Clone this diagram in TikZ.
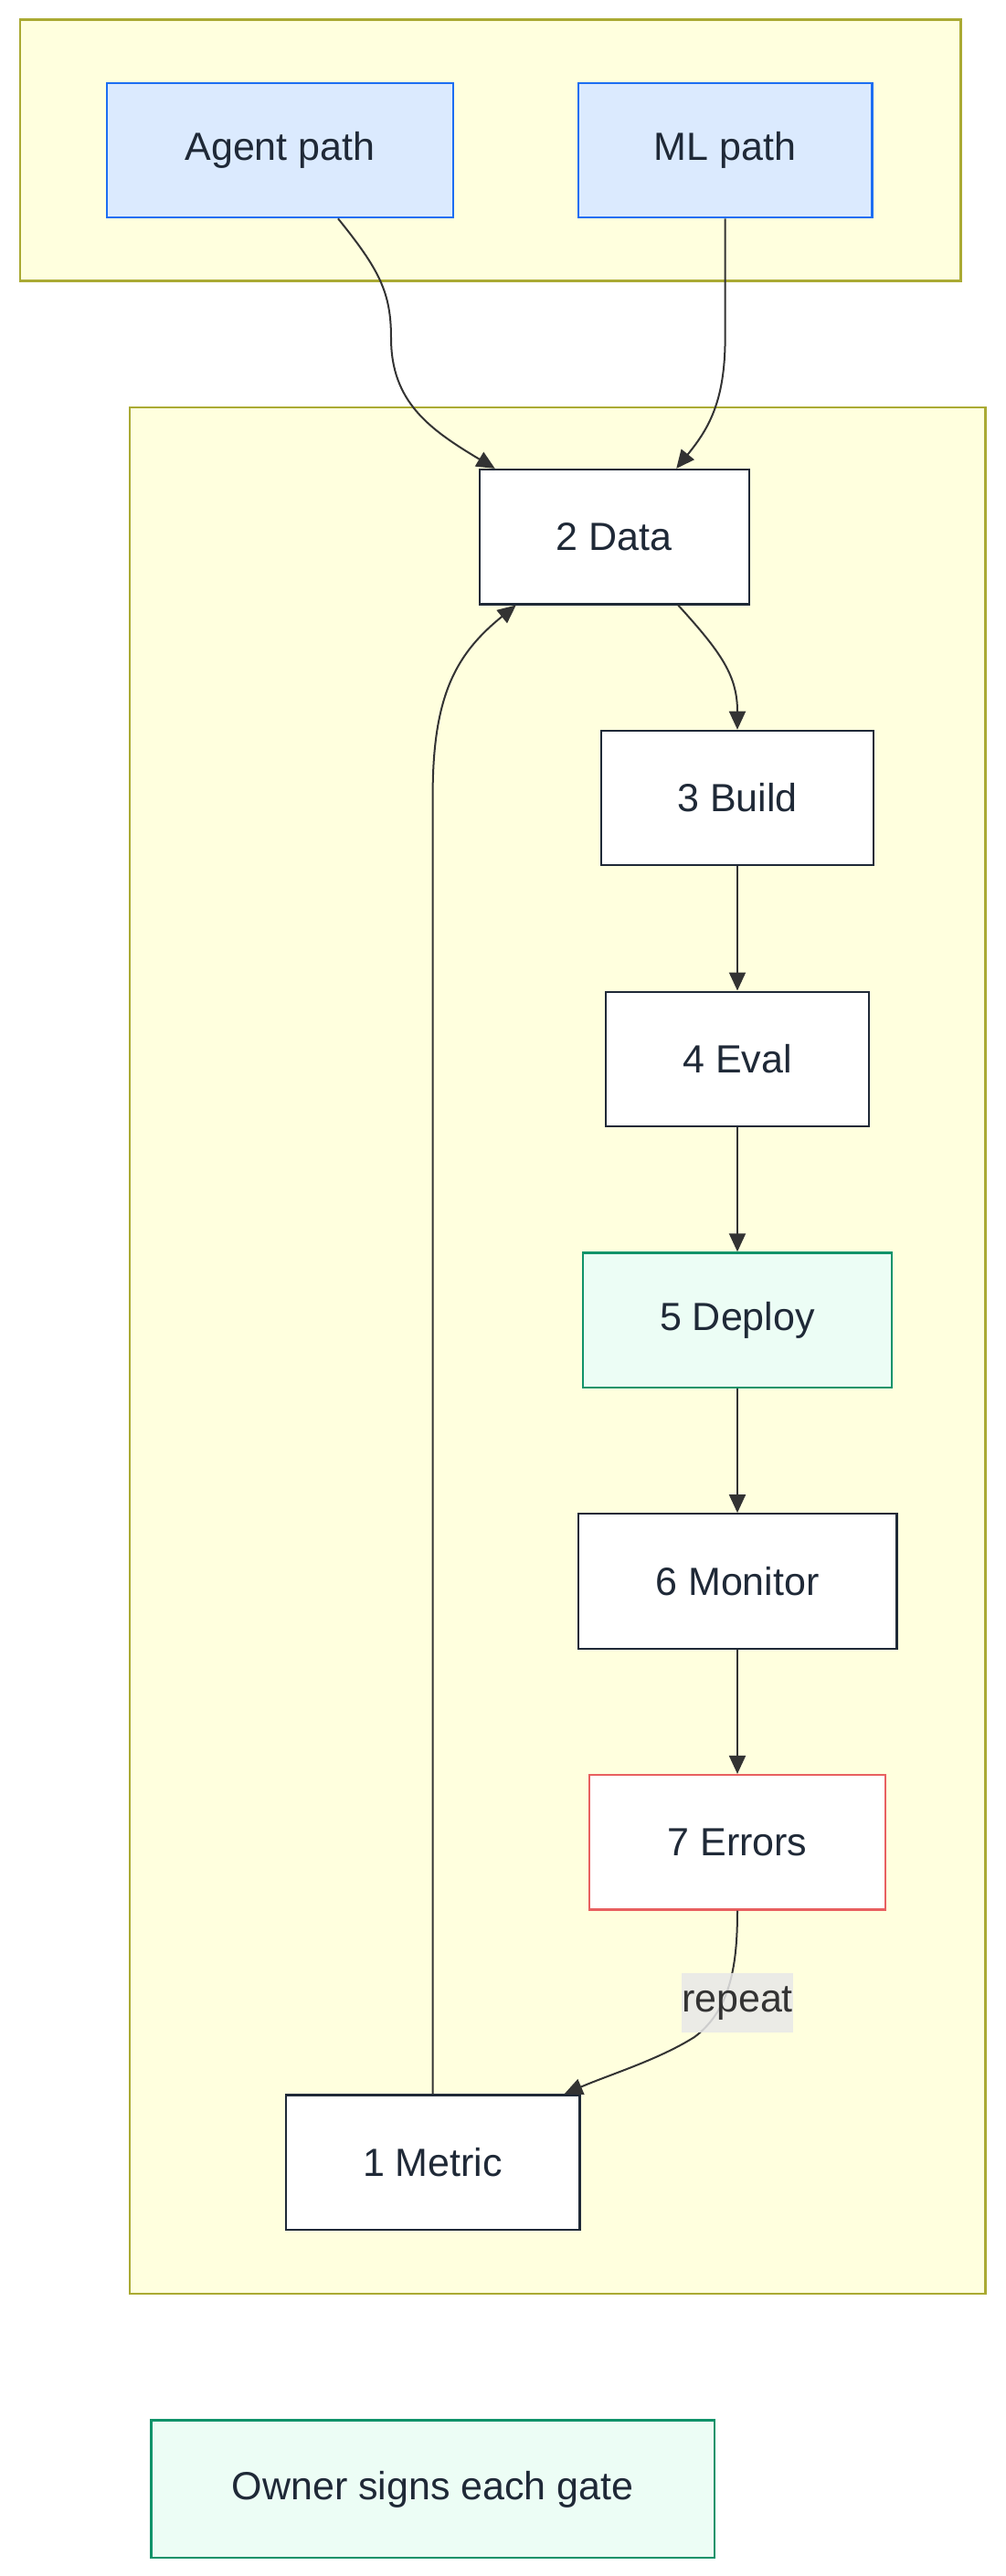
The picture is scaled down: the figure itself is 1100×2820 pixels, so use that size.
\documentclass[tikz,border=0pt]{standalone}
\usepackage{fontspec}
\setmainfont{Liberation Sans}
\usetikzlibrary{arrows.meta,calc}

\definecolor{clusterfill}{HTML}{FFFFDE}
\definecolor{clusterline}{HTML}{AAAA33}
\definecolor{pathfill}{HTML}{DBEAFE}
\definecolor{pathline}{HTML}{1C6EF2}
\definecolor{gatefill}{HTML}{ECFDF5}
\definecolor{gateline}{HTML}{10936A}
\definecolor{errline}{HTML}{E86060}
\definecolor{nodeline}{HTML}{1F2937}
\definecolor{edgeline}{HTML}{333333}
\definecolor{lblfill}{HTML}{E8E8E8}

\tikzset{
  stepbox/.style={draw=nodeline, fill=white, line width=1.1pt, text=nodeline,
    minimum height=73.7pt, inner sep=0pt, font=\fontsize{21.5}{26}\selectfont},
  pathbox/.style={stepbox, draw=pathline, fill=pathfill},
  gatebox/.style={stepbox, draw=gateline, fill=gatefill},
  errbox/.style={stepbox, draw=errline},
  cluster/.style={draw=clusterline, fill=clusterfill, line width=1.1pt},
  flow/.style={draw=edgeline, line width=1pt, -{Triangle[length=10pt,width=9pt]}},
}

\begin{document}
\begin{tikzpicture}[x=0.5pt, y=-0.5pt]
  \useasboundingbox (0,0) rectangle (1100,2820);

  % 1. clusters
  \draw[cluster] (21.6,21.6) rectangle (1051.5,307.4);
  \draw[cluster] (142,445.8) rectangle (1078.4,2510.9);

  % 2. nodes
  \node[pathbox, minimum width=189.6pt] (agent) at (306.5,164.5) {Agent path};
  \node[pathbox, minimum width=160.8pt] (ml) at (793.6,164.5) {ML path};
  \node[stepbox, minimum width=147.4pt] (data) at (672.2,587.7) {2 Data};
  \node[stepbox, minimum width=149.2pt] (build) at (807,873.5) {3 Build};
  \node[stepbox, minimum width=143.8pt] (eval) at (807,1159.3) {4 Eval};
  \node[gatebox, minimum width=169pt] (deploy) at (807,1445.1) {5 Deploy};
  \node[stepbox, minimum width=174.4pt] (monitor) at (807,1730.9) {6 Monitor};
  \node[errbox, minimum width=161.7pt] (errors) at (807,2016.7) {7 Errors};
  \node[stepbox, minimum width=160.9pt] (metric) at (473.6,2367.1) {1 Metric};
  \node[gatebox, minimum width=308.2pt, minimum height=75.4pt] (owner) at (473.6,2724.9) {Owner signs each gate};

  % 3. connectors
  \draw[flow] ($(agent.south)+(63.5,0)$) .. controls (415,295) and (428,320) .. (428,370)
    .. controls (428,440) and (470,470) .. ($(data.north west)+(18,0)$);
  \draw[flow] (ml.south) -- (793.6,370) .. controls (793.6,440) and (775,470) .. ($(data.north)+(68,0)$);
  \draw[flow] ($(data.south)+(70,0)$) .. controls (790,715) and (807,740) .. (build.north);
  \draw[flow] (build) -- (eval);
  \draw[flow] (eval) -- (deploy);
  \draw[flow] (deploy) -- (monitor);
  \draw[flow] (monitor) -- (errors);
  \draw[flow] (errors.south) .. controls (807,2150) and (800,2200) .. (760,2230)
    .. controls (720,2255) and (670,2270) .. ($(metric.north east)+(-18,0)$);
  \draw[flow] (metric.north) -- (473.6,870) .. controls (473.6,760) and (500,715) .. ($(data.south west)+(41,0)$);

  % 4. edge label
  \node[fill=lblfill, fill opacity=0.85, text opacity=1, text=edgeline, inner sep=0pt,
    minimum width=61pt, minimum height=32.4pt, font=\fontsize{21.5}{26}\selectfont]
    (repeatlbl) at (807,2192.8) {repeat};
\end{tikzpicture}
\end{document}
